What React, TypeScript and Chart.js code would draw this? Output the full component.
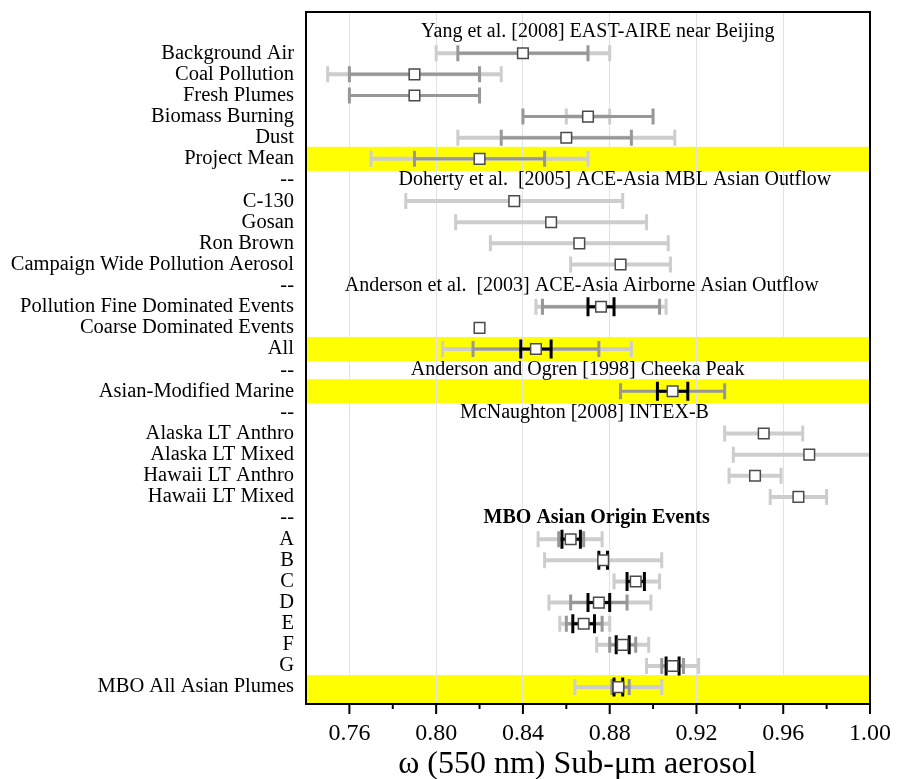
import React, { useEffect, useRef } from 'react';
import { Chart, registerables } from 'chart.js';

Chart.register(...registerables);

const FONT = '"Liberation Serif", "Times New Roman", serif';

const rowLabels = [
  '',
  'Background Air',
  'Coal Pollution',
  'Fresh Plumes',
  'Biomass Burning',
  'Dust',
  'Project Mean',
  '--',
  'C-130',
  'Gosan',
  'Ron Brown',
  'Campaign Wide Pollution Aerosol',
  '--',
  'Pollution Fine Dominated Events',
  'Coarse Dominated Events',
  'All',
  '--',
  'Asian-Modified Marine',
  '--',
  'Alaska LT Anthro',
  'Alaska LT Mixed',
  'Hawaii LT Anthro',
  'Hawaii LT Mixed',
  '--',
  'A',
  'B',
  'C',
  'D',
  'E',
  'F',
  'G',
  'MBO All Asian Plumes',
];

const meanValues = [
  null, 0.84, 0.79, 0.79, 0.87, 0.86, 0.82,
  null, 0.836, 0.853, 0.866, 0.885,
  null, 0.876, 0.82, 0.846,
  null, 0.909,
  null, 0.951, 0.972, 0.947, 0.967,
  null, 0.862, 0.877, 0.892, 0.875, 0.868, 0.886, 0.909, 0.884,
];

const lightLow = [
  null, 0.80, 0.75, null, 0.86, 0.81, 0.77,
  null, 0.786, 0.809, 0.825, 0.862,
  null, 0.846, null, 0.803,
  null, null,
  null, 0.933, 0.937, 0.935, 0.954,
  null, 0.847, 0.85, 0.882, 0.852, 0.857, 0.874, 0.897, 0.864,
];
const lightHigh = [
  null, 0.88, 0.83, null, 0.88, 0.91, 0.87,
  null, 0.886, 0.897, 0.907, 0.908,
  null, 0.906, null, 0.89,
  null, null,
  null, 0.969, 1.01, 0.959, 0.98,
  null, 0.8765, 0.904, 0.903, 0.899, 0.88, 0.898, 0.921, 0.904,
];

const darkLow = [
  null, 0.81, 0.76, 0.76, 0.84, 0.83, 0.79,
  null, null, null, null, null,
  null, 0.849, null, 0.817,
  null, 0.885,
  null, null, null, null, null,
  null, 0.8565, null, null, 0.862, 0.86, 0.88, 0.904, 0.881,
];
const darkHigh = [
  null, 0.87, 0.82, 0.82, 0.90, 0.89, 0.85,
  null, null, null, null, null,
  null, 0.903, null, 0.875,
  null, 0.933,
  null, null, null, null, null,
  null, 0.868, null, null, 0.888, 0.8765, 0.892, 0.914, 0.889,
];

const blackLow = [
  null, null, null, null, null, null, null,
  null, null, null, null, null,
  null, 0.87, null, 0.839,
  null, 0.902,
  null, null, null, null, null,
  null, 0.858, 0.875, 0.888, 0.87, 0.863, 0.883, 0.906, 0.882,
];
const blackHigh = [
  null, null, null, null, null, null, null,
  null, null, null, null, null,
  null, 0.882, null, 0.853,
  null, 0.916,
  null, null, null, null, null,
  null, 0.8665, 0.879, 0.896, 0.88, 0.873, 0.889, 0.912, 0.886,
];

const highlightRows = [6, 15, 17, 31];

const sectionTitles = [
  'Yang et al. [2008] EAST-AIRE near Beijing',
  'Doherty et al.  [2005] ACE-Asia MBL Asian Outflow',
  'Anderson et al.  [2003] ACE-Asia Airborne Asian Outflow',
  'Anderson and Ogren [1998] Cheeka Peak',
  'McNaughton [2008] INTEX-B',
  'MBO Asian Origin Events',
];
const sectionRows = [0, 7, 12, 16, 18, 23];
const sectionCenters = [0.8745, 0.8824, 0.8671, 0.8652, 0.8684, 0.874];
const sectionBold = [false, false, false, false, false, true];

const xMajorTicks = [0.76, 0.8, 0.84, 0.88, 0.92, 0.96, 1.0];
const xMinorTicks = [0.78, 0.82, 0.86, 0.9, 0.94, 0.98];
const xAxisTitle = 'ω (550 nm) Sub-μm aerosol';

const LIGHT = '#cdcdcd';
const DARK = '#979797';
const BLACK = '#000000';

export default function App() {
  const ref = useRef<HTMLCanvasElement | null>(null);

  useEffect(() => {
    document.body.style.margin = '0';
    const canvas = ref.current;
    if (!canvas) return;

    const bandsPlugin = {
      id: 'bands',
      beforeDraw(chart: any) {
        const { ctx, chartArea } = chart;
        const y = chart.scales.y;
        ctx.save();
        ctx.fillStyle = '#ffff00';
        highlightRows.forEach((r) => {
          const t = y.getPixelForValue(r - 0.57);
          let b = y.getPixelForValue(r + 0.57);
          if (chartArea.bottom - b < 8) b = chartArea.bottom;
          ctx.fillRect(chartArea.left, t, chartArea.right - chartArea.left, b - t);
        });
        ctx.restore();
      },
    };

    const drawBar = (chart: any, lo: number | null, hi: number | null, row: number, color: string, lw: number, capHalf: number) => {
      if (lo == null || hi == null) return;
      const { ctx } = chart;
      const x = chart.scales.x;
      const y = chart.scales.y;
      const x0 = x.getPixelForValue(lo);
      const x1 = x.getPixelForValue(hi);
      const py = y.getPixelForValue(row);
      ctx.strokeStyle = color;
      ctx.lineWidth = lw;
      ctx.lineCap = 'butt';
      ctx.beginPath();
      ctx.moveTo(x0, py);
      ctx.lineTo(x1, py);
      ctx.stroke();
      ctx.lineWidth = 3;
      ctx.beginPath();
      ctx.moveTo(x0, py - capHalf);
      ctx.lineTo(x0, py + capHalf);
      ctx.moveTo(x1, py - capHalf);
      ctx.lineTo(x1, py + capHalf);
      ctx.stroke();
    };

    const barsPlugin = {
      id: 'bars',
      beforeDatasetsDraw(chart: any) {
        const { ctx, chartArea } = chart;
        ctx.save();
        ctx.beginPath();
        ctx.rect(chartArea.left, chartArea.top, chartArea.right - chartArea.left, chartArea.bottom - chartArea.top);
        ctx.clip();
        rowLabels.forEach((_, i) => {
          drawBar(chart, lightLow[i], lightHigh[i], i, LIGHT, 4, 8);
          drawBar(chart, darkLow[i], darkHigh[i], i, DARK, 3, 8);
          drawBar(chart, blackLow[i], blackHigh[i], i, BLACK, 3, 9.5);
        });
        ctx.restore();
      },
    };

    const overlayPlugin = {
      id: 'overlay',
      afterDatasetsDraw(chart: any) {
        const { ctx } = chart;
        const x = chart.scales.x;
        const y = chart.scales.y;
        ctx.save();
        ctx.fillStyle = '#000';
        ctx.textAlign = 'center';
        ctx.textBaseline = 'middle';
        sectionTitles.forEach((t, i) => {
          ctx.font = `${sectionBold[i] ? 'bold ' : ''}20px ${FONT}`;
          ctx.fillText(t, x.getPixelForValue(sectionCenters[i]), y.getPixelForValue(sectionRows[i]));
        });
        ctx.restore();
      },
      afterDraw(chart: any) {
        const { ctx, chartArea } = chart;
        const x = chart.scales.x;
        ctx.save();
        ctx.strokeStyle = '#000';
        ctx.lineWidth = 2;
        ctx.beginPath();
        xMajorTicks.forEach((v) => {
          const px = x.getPixelForValue(v);
          ctx.moveTo(px, chartArea.bottom);
          ctx.lineTo(px, chartArea.bottom + 10);
        });
        xMinorTicks.forEach((v) => {
          const px = x.getPixelForValue(v);
          ctx.moveTo(px, chartArea.bottom);
          ctx.lineTo(px, chartArea.bottom + 5);
        });
        ctx.stroke();
        ctx.strokeRect(chartArea.left, chartArea.top, chartArea.right - chartArea.left, chartArea.bottom - chartArea.top);
        // x-axis title
        ctx.fillStyle = '#000';
        ctx.font = `32px ${FONT}`;
        ctx.textAlign = 'center';
        ctx.textBaseline = 'middle';
        ctx.fillText(xAxisTitle, chartArea.left + (chartArea.right - chartArea.left) * 0.481, chartArea.bottom + 61);
        ctx.restore();
      },
    };

    const points = meanValues
      .map((v, i) => (v == null ? null : { x: v, y: i }))
      .filter((p) => p !== null);

    const chart = new Chart(canvas, {
      type: 'scatter',
      data: {
        datasets: [
          {
            data: points as any,
            pointStyle: 'rect',
            pointRadius: 7.5,
            pointHoverRadius: 7.5,
            backgroundColor: '#ffffff',
            borderColor: '#4a4a4a',
            borderWidth: 1.5,
          },
        ],
      },
      options: {
        animation: false,
        responsive: true,
        maintainAspectRatio: false,
        layout: { padding: { top: 12, right: 28, left: 0, bottom: 0 } },
        plugins: { legend: { display: false }, tooltip: { enabled: false } },
        scales: {
          x: {
            type: 'linear',
            min: 0.74,
            max: 1.0,
            afterBuildTicks: (s: any) => {
              s.ticks = xMajorTicks.map((v) => ({ value: v }));
            },
            afterFit: (s: any) => {
              s.height = 75;
              s.paddingLeft = 0;
              s.paddingRight = 0;
            },
            grid: {
              color: (c: any) => (c.tick && c.tick.value > 0.999 ? 'rgba(0,0,0,0)' : '#e2e2e2'),
              lineWidth: 1,
              drawTicks: false,
            },
            border: { display: false },
            ticks: {
              autoSkip: false,
              maxRotation: 0,
              padding: 15,
              color: '#000',
              font: { family: FONT, size: 24 },
              callback: (v: any) => Number(v).toFixed(2),
            },
            title: { display: false },
          },
          y: {
            type: 'linear',
            min: -0.95,
            max: 31.8,
            reverse: true,
            afterBuildTicks: (s: any) => {
              s.ticks = rowLabels.map((_, i) => ({ value: i }));
            },
            afterFit: (s: any) => {
              s.width = 306;
              s.paddingTop = 0;
              s.paddingBottom = 0;
            },
            grid: { display: false, drawTicks: false },
            border: { display: false },
            ticks: {
              autoSkip: false,
              padding: 12,
              color: '#000',
              font: { family: FONT, size: 20.5 },
              callback: (_v: any, i: number) => rowLabels[i] ?? '',
            },
          },
        },
      },
      plugins: [bandsPlugin, barsPlugin, overlayPlugin],
    });

    return () => chart.destroy();
  }, []);

  return (
    <div style={{ position: 'fixed', left: 0, top: 0, width: 898, height: 779, background: '#fff' }}>
      <canvas ref={ref} style={{ display: 'block' }} />
    </div>
  );
}
